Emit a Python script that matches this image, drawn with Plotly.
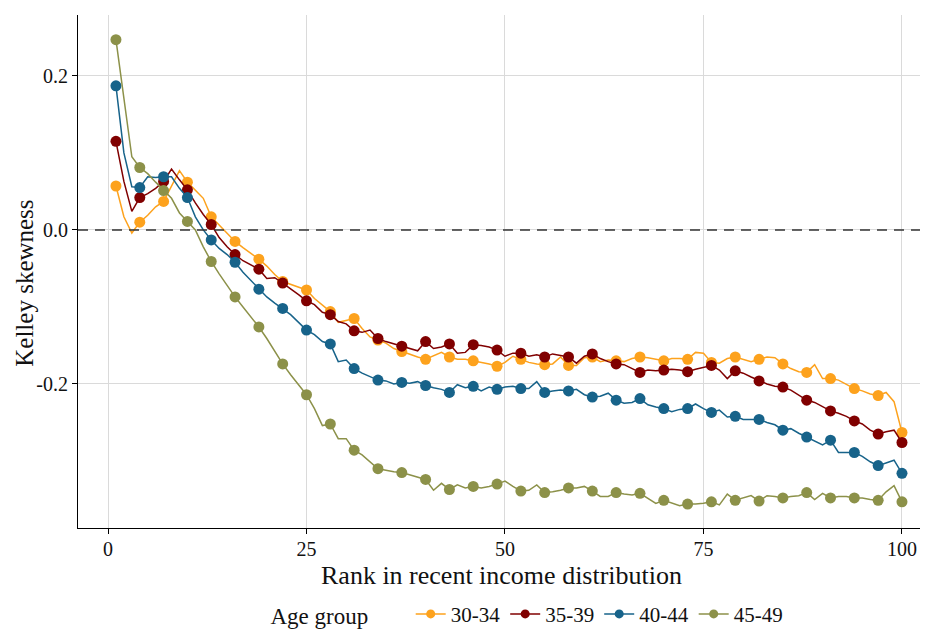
import plotly.graph_objects as go

# Rank in recent income distribution (percentiles 1..100)
rank = list(range(1, 101))

# Kelley skewness of future income changes by age group
skew_30_34 = [
    0.057, 0.017, -0.004, 0.010, 0.019, 0.030, 0.037, 0.058, 0.077, 0.062,
    0.052, 0.041, 0.017, 0.006, -0.004, -0.015, -0.023, -0.030, -0.038, -0.047,
    -0.058, -0.067, -0.071, -0.074, -0.078, -0.089, -0.098, -0.106, -0.120, -0.117,
    -0.115, -0.128, -0.139, -0.143, -0.147, -0.154, -0.158, -0.161, -0.165, -0.168,
    -0.164, -0.159, -0.165, -0.168, -0.168, -0.170, -0.172, -0.174, -0.177, -0.172,
    -0.164, -0.168, -0.172, -0.174, -0.175, -0.174, -0.165, -0.176, -0.176, -0.166,
    -0.165, -0.171, -0.169, -0.170, -0.171, -0.167, -0.165, -0.166, -0.168, -0.170,
    -0.167, -0.167, -0.168, -0.159, -0.160, -0.172, -0.173, -0.167, -0.165, -0.168,
    -0.171, -0.168, -0.165, -0.166, -0.174, -0.180, -0.184, -0.185, -0.175, -0.193,
    -0.193, -0.195, -0.201, -0.206, -0.209, -0.213, -0.215, -0.211, -0.223, -0.263,
]
skew_35_39 = [
    0.115, 0.063, 0.024, 0.042, 0.047, 0.054, 0.063, 0.079, 0.065, 0.052,
    0.035, 0.020, 0.007, -0.010, -0.022, -0.032, -0.040, -0.046, -0.051, -0.063,
    -0.062, -0.069, -0.076, -0.084, -0.092, -0.097, -0.107, -0.110, -0.119, -0.122,
    -0.131, -0.133, -0.130, -0.141, -0.145, -0.148, -0.151, -0.155, -0.157, -0.145,
    -0.154, -0.152, -0.148, -0.160, -0.159, -0.149, -0.150, -0.152, -0.156, -0.164,
    -0.160, -0.160, -0.164, -0.162, -0.165, -0.161, -0.163, -0.165, -0.173, -0.164,
    -0.161, -0.167, -0.171, -0.174, -0.175, -0.180, -0.185, -0.182, -0.183, -0.182,
    -0.181, -0.182, -0.184, -0.181, -0.178, -0.176, -0.182, -0.193, -0.183, -0.186,
    -0.191, -0.196, -0.200, -0.203, -0.204, -0.208, -0.214, -0.221, -0.224, -0.230,
    -0.235, -0.238, -0.242, -0.248, -0.252, -0.260, -0.265, -0.262, -0.260, -0.276,
]
skew_40_44 = [
    0.187, 0.100, 0.056, 0.055, 0.069, 0.068, 0.069, 0.069, 0.054, 0.042,
    0.017, 0.000, -0.013, -0.024, -0.032, -0.042, -0.055, -0.066, -0.077, -0.087,
    -0.095, -0.102, -0.110, -0.120, -0.130, -0.136, -0.145, -0.148, -0.171, -0.169,
    -0.180, -0.186, -0.190, -0.195, -0.196, -0.200, -0.198, -0.199, -0.197, -0.202,
    -0.205, -0.207, -0.211, -0.201, -0.205, -0.203, -0.209, -0.204, -0.207, -0.204,
    -0.203, -0.206, -0.206, -0.197, -0.211, -0.209, -0.208, -0.209, -0.207, -0.214,
    -0.217, -0.216, -0.212, -0.221, -0.225, -0.224, -0.219, -0.227, -0.230, -0.232,
    -0.236, -0.233, -0.232, -0.226, -0.232, -0.237, -0.234, -0.243, -0.242, -0.246,
    -0.246, -0.246, -0.250, -0.253, -0.260, -0.258, -0.264, -0.269, -0.275, -0.279,
    -0.273, -0.289, -0.289, -0.289, -0.294, -0.301, -0.306, -0.303, -0.299, -0.316,
]
skew_45_49 = [
    0.247, 0.171, 0.095, 0.081, 0.073, 0.062, 0.051, 0.041, 0.022, 0.011,
    0.000, -0.022, -0.041, -0.057, -0.072, -0.087, -0.100, -0.113, -0.126, -0.141,
    -0.158, -0.174, -0.188, -0.201, -0.214, -0.232, -0.254, -0.252, -0.271, -0.271,
    -0.286, -0.292, -0.301, -0.310, -0.312, -0.314, -0.315, -0.318, -0.321, -0.324,
    -0.338, -0.329, -0.337, -0.331, -0.335, -0.333, -0.335, -0.333, -0.330, -0.326,
    -0.333, -0.339, -0.338, -0.331, -0.341, -0.340, -0.338, -0.335, -0.335, -0.333,
    -0.339, -0.346, -0.346, -0.341, -0.343, -0.344, -0.342, -0.348, -0.355, -0.351,
    -0.355, -0.358, -0.356, -0.356, -0.355, -0.353, -0.357, -0.343, -0.351, -0.348,
    -0.345, -0.352, -0.345, -0.346, -0.348, -0.346, -0.345, -0.341, -0.350, -0.342,
    -0.348, -0.346, -0.346, -0.348, -0.348, -0.350, -0.351, -0.340, -0.332, -0.353,
]

groups = ["30-34", "35-39", "40-44", "45-49"]
series = [skew_30_34, skew_35_39, skew_40_44, skew_45_49]
colors = ["#FDA21D", "#800000", "#17638A", "#8C9149"]

x_ticks = [0, 25, 50, 75, 100]
y_ticks = [0.2, 0.0, -0.2]
y_tick_text = ["0.2", "0.0", "-0.2"]

FONT = "Liberation Serif"
TEXT_COLOR = "#111111"
MARK_STEP = 3  # a marker on every third percentile

fig = go.Figure()

for name, vals, col in zip(groups, series, colors):
    # full-resolution line
    fig.add_trace(go.Scatter(
        x=rank, y=vals, mode="lines",
        line=dict(color=col, width=1.5),
        showlegend=False, hoverinfo="skip",
    ))
    # thinned markers
    fig.add_trace(go.Scatter(
        x=rank[::MARK_STEP], y=vals[::MARK_STEP], mode="markers",
        marker=dict(color=col, size=11),
        showlegend=False, name=name,
    ))
    # legend entry
    fig.add_trace(go.Scatter(
        x=[None], y=[None], mode="lines+markers",
        line=dict(color=col, width=1.5),
        marker=dict(color=col, size=9),
        name=name, showlegend=True,
    ))

# dashed zero reference line
fig.add_hline(y=0, line=dict(color="#333333", width=1.5, dash="10px,7px"), layer="above")

# axis titles
fig.add_annotation(
    text="Kelley skewness", textangle=-90,
    xref="paper", yref="paper", x=-0.063, y=0.478,
    xanchor="center", yanchor="middle", showarrow=False,
    font=dict(family=FONT, size=25, color=TEXT_COLOR),
)
fig.add_annotation(
    text="Rank in recent income distribution",
    xref="paper", yref="paper", x=0.503, y=-0.093,
    xanchor="center", yanchor="middle", showarrow=False, borderpad=0,
    font=dict(family=FONT, size=26, color=TEXT_COLOR),
)

fig.update_layout(
    width=931, height=630,
    margin=dict(l=78, r=11, t=15, b=102),
    paper_bgcolor="white", plot_bgcolor="white",
    font=dict(family=FONT, size=20, color=TEXT_COLOR),
    legend=dict(
        orientation="h", xref="paper", x=0.535, xanchor="center",
        yref="container", y=0.025, yanchor="middle",
        title=dict(text="Age group      ", side="left", font=dict(size=23)),
        font=dict(size=21), itemwidth=30,
    ),
)

fig.update_xaxes(
    range=[-3.78, 102.27], tickvals=x_ticks,
    showgrid=True, gridcolor="#DADADA", gridwidth=1,
    showline=True, linecolor="black", linewidth=1,
    ticks="outside", ticklen=5, tickcolor="black",
    zeroline=False, tickfont=dict(size=20), ticklabelstandoff=-2,
)
fig.update_yaxes(
    range=[-0.387, 0.279], tickvals=y_ticks, ticktext=y_tick_text,
    showgrid=True, gridcolor="#DADADA", gridwidth=1,
    showline=True, linecolor="black", linewidth=1,
    ticks="outside", ticklen=5, tickcolor="black",
    zeroline=False, tickfont=dict(size=20),
)

fig.write_html("out.html")
